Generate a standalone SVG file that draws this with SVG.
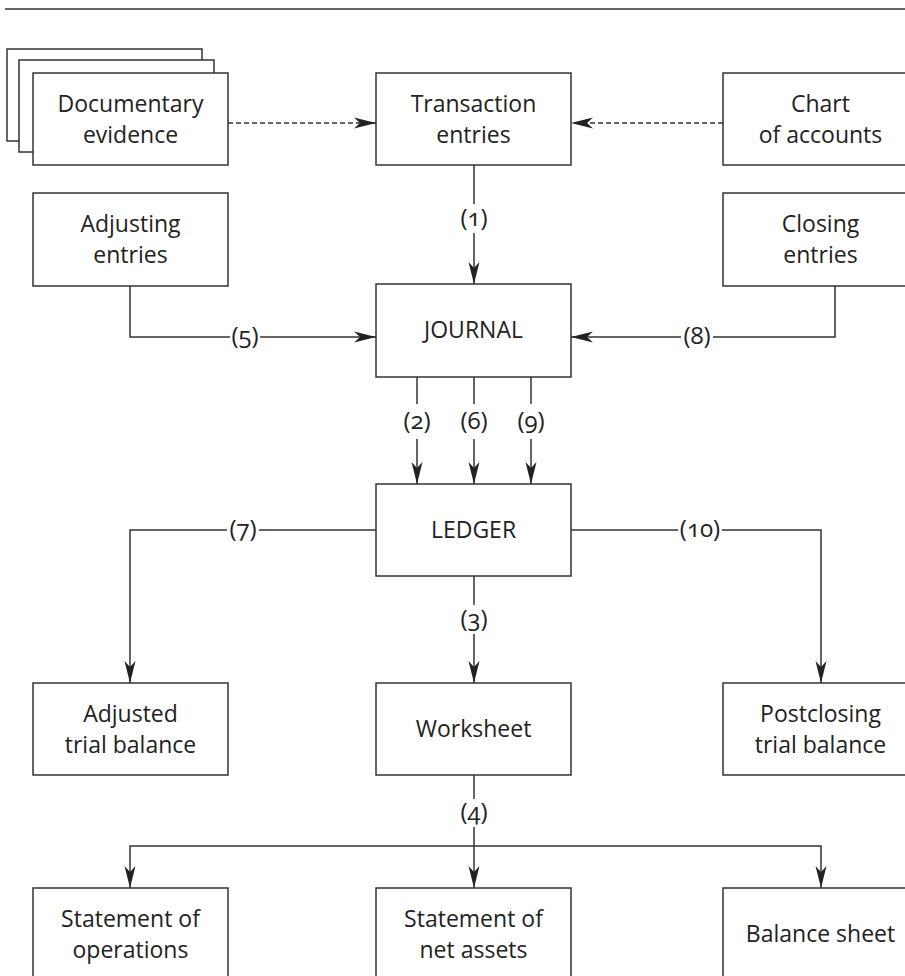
<svg xmlns="http://www.w3.org/2000/svg" width="905" height="976" viewBox="0 0 905 976">
<style>
.box{fill:#fff;stroke:#333;stroke-width:1.5}
.t{font-family:"Open Sans","Noto Sans",sans-serif;font-size:23px;fill:#222;text-anchor:middle}
.l{font-family:"Open Sans","Noto Sans",sans-serif;font-size:24px;fill:#222;text-anchor:middle;font-variant-numeric:oldstyle-nums}
.c{fill:none;stroke:#333;stroke-width:1.5}
.d{stroke-dasharray:5 3}
.a{marker-end:url(#ah)}
</style>
<defs>
<marker id="ah" viewBox="-22 -6 23 12" refX="0" refY="0" markerWidth="23" markerHeight="12" markerUnits="userSpaceOnUse" orient="auto">
<path d="M0,0 L-22,-5.5 L-16,0 L-22,5.5 Z" fill="#222"/>
</marker>
</defs>
<line x1="5" y1="9" x2="905" y2="9" stroke="#333" stroke-width="1.5"/>

<g id="documentary-evidence">
<rect class="box" x="7" y="49" width="195" height="92"/>
<rect class="box" x="19" y="60" width="195" height="92"/>
<rect class="box" x="33" y="73" width="195" height="92"/>
<text class="t" x="130.5" y="112">Documentary</text>
<text class="t" x="130.5" y="143">evidence</text>
</g>
<g id="transaction-entries">
<rect class="box" x="376" y="73" width="195" height="92"/>
<text class="t" x="473.5" y="112">Transaction</text>
<text class="t" x="473.5" y="143">entries</text>
</g>
<g id="chart-of-accounts">
<rect class="box" x="723" y="73" width="195" height="92"/>
<text class="t" x="820.5" y="112">Chart</text>
<text class="t" x="820.5" y="143">of accounts</text>
</g>
<g id="adjusting-entries">
<rect class="box" x="33" y="193" width="195" height="93"/>
<text class="t" x="130.5" y="232">Adjusting</text>
<text class="t" x="130.5" y="263">entries</text>
</g>
<g id="closing-entries">
<rect class="box" x="723" y="193" width="195" height="93"/>
<text class="t" x="820.5" y="232">Closing</text>
<text class="t" x="820.5" y="263">entries</text>
</g>
<g id="journal">
<rect class="box" x="376" y="284" width="195" height="93"/>
<text class="t" x="473.5" y="338">JOURNAL</text>
</g>
<g id="ledger">
<rect class="box" x="376" y="484" width="195" height="92"/>
<text class="t" x="473.5" y="538">LEDGER</text>
</g>
<g id="adjusted-trial-balance">
<rect class="box" x="33" y="683" width="195" height="92"/>
<text class="t" x="130.5" y="722">Adjusted</text>
<text class="t" x="130.5" y="753">trial balance</text>
</g>
<g id="worksheet">
<rect class="box" x="376" y="683" width="195" height="92"/>
<text class="t" x="473.5" y="737">Worksheet</text>
</g>
<g id="postclosing-trial-balance">
<rect class="box" x="723" y="683" width="195" height="92"/>
<text class="t" x="820.5" y="722">Postclosing</text>
<text class="t" x="820.5" y="753">trial balance</text>
</g>
<g id="statement-of-operations">
<rect class="box" x="33" y="888" width="195" height="92"/>
<text class="t" x="130.5" y="927">Statement of</text>
<text class="t" x="130.5" y="958">operations</text>
</g>
<g id="statement-of-net-assets">
<rect class="box" x="376" y="888" width="195" height="92"/>
<text class="t" x="473.5" y="927">Statement of</text>
<text class="t" x="473.5" y="958">net assets</text>
</g>
<g id="balance-sheet">
<rect class="box" x="723" y="888" width="195" height="92"/>
<text class="t" x="820.5" y="942">Balance sheet</text>
</g>

<g id="connectors">
<path class="c d a" d="M228,123 H376"/>
<path class="c d a" d="M723,123 H571"/>
<path class="c" d="M474,165 V204"/>
<path class="c a" d="M474,233 V284"/>
<text class="l" x="474" y="226">(1)</text>
<path class="c" d="M130,286 V337 H230"/>
<path class="c a" d="M260,337 H376"/>
<text class="l" x="245" y="344">(5)</text>
<path class="c" d="M835,286 V337 H713"/>
<path class="c a" d="M681,337 H571"/>
<text class="l" x="697" y="344">(8)</text>
<path class="c" d="M417,377 V404"/>
<path class="c a" d="M417,439 V484"/>
<text class="l" x="417" y="429">(2)</text>
<path class="c" d="M474,377 V404"/>
<path class="c a" d="M474,439 V484"/>
<text class="l" x="474" y="429">(6)</text>
<path class="c" d="M531,377 V404"/>
<path class="c a" d="M531,439 V484"/>
<text class="l" x="531" y="429">(9)</text>
<path class="c" d="M376,530 H259"/>
<path class="c a" d="M227,530 H130 V683"/>
<text class="l" x="243" y="537">(7)</text>
<path class="c" d="M571,530 H678"/>
<path class="c a" d="M722,530 H821 V683"/>
<text class="l" x="700" y="537">(10)</text>
<path class="c" d="M474,576 V605"/>
<path class="c a" d="M474,634 V683"/>
<text class="l" x="474" y="627">(3)</text>
<path class="c" d="M474,775 V799"/>
<path class="c a" d="M474,827 V888"/>
<text class="l" x="474" y="820">(4)</text>
<path class="c a" d="M474,846 H130 V888"/>
<path class="c a" d="M474,846 H821 V888"/>
</g>
</svg>
